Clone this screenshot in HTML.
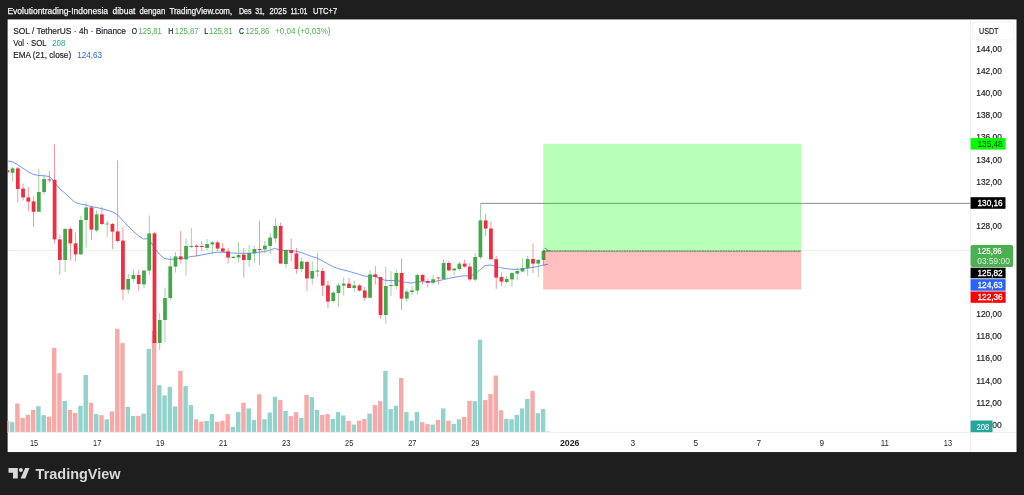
<!DOCTYPE html>
<html lang="id"><head><meta charset="utf-8"><title>SOL / TetherUS</title>
<style>html,body{margin:0;padding:0;background:#1e1e1e;}body{width:1024px;height:495px;overflow:hidden;}svg{display:block;filter:blur(0.35px);}text{font-family:"Liberation Sans",sans-serif;}</style></head><body>
<svg width="1024" height="495" viewBox="0 0 1024 495">
<rect x="0" y="0" width="1024" height="495" fill="#1e1e1e"/>
<rect x="7.1" y="18.9" width="1009.95" height="433.7" fill="#101010"/>
<rect x="7.6" y="19.4" width="1008.95" height="432.7" fill="#ffffff"/>
<g font-size="9.6" fill="#f4f4f4" stroke="#f4f4f4" stroke-width="0.25">
<text x="7.4" y="14.1" textLength="100.7" lengthAdjust="spacingAndGlyphs">Evolutiontrading-Indonesia</text>
<text x="112.5" y="14.1" textLength="22.9" lengthAdjust="spacingAndGlyphs">dibuat</text>
<text x="139.4" y="14.1" textLength="25.8" lengthAdjust="spacingAndGlyphs">dengan</text>
<text x="169.4" y="14.1" textLength="62.8" lengthAdjust="spacingAndGlyphs">TradingView.com,</text>
<text x="238.9" y="14.1" textLength="12.6" lengthAdjust="spacingAndGlyphs">Des</text>
<text x="255.2" y="14.1" textLength="9.6" lengthAdjust="spacingAndGlyphs">31,</text>
<text x="269.5" y="14.1" textLength="17.2" lengthAdjust="spacingAndGlyphs">2025</text>
<text x="290.4" y="14.1" textLength="17.1" lengthAdjust="spacingAndGlyphs">11:01</text>
<text x="313.0" y="14.1" textLength="24.2" lengthAdjust="spacingAndGlyphs">UTC+7</text>
</g>
<defs><clipPath id="cp"><rect x="7.5" y="19.5" width="962.5" height="412.7"/></clipPath></defs>
<g clip-path="url(#cp)">
<rect x="4.69" y="420.90" width="4.40" height="11.30" fill="#f7a9a7"/>
<rect x="9.94" y="422.20" width="4.40" height="10.00" fill="#92d2cc"/>
<rect x="15.20" y="403.50" width="4.40" height="28.70" fill="#f7a9a7"/>
<rect x="20.46" y="417.90" width="4.40" height="14.30" fill="#f7a9a7"/>
<rect x="25.71" y="414.80" width="4.40" height="17.40" fill="#f7a9a7"/>
<rect x="30.97" y="409.80" width="4.40" height="22.40" fill="#f7a9a7"/>
<rect x="36.23" y="406.20" width="4.40" height="26.00" fill="#92d2cc"/>
<rect x="41.48" y="415.20" width="4.40" height="17.00" fill="#92d2cc"/>
<rect x="46.74" y="416.60" width="4.40" height="15.60" fill="#f7a9a7"/>
<rect x="52.00" y="347.80" width="4.40" height="84.40" fill="#f7a9a7"/>
<rect x="57.25" y="373.20" width="4.40" height="59.00" fill="#f7a9a7"/>
<rect x="62.51" y="401.00" width="4.40" height="31.20" fill="#92d2cc"/>
<rect x="67.77" y="409.80" width="4.40" height="22.40" fill="#f7a9a7"/>
<rect x="73.03" y="413.00" width="4.40" height="19.20" fill="#f7a9a7"/>
<rect x="78.28" y="405.70" width="4.40" height="26.50" fill="#92d2cc"/>
<rect x="83.54" y="375.00" width="4.40" height="57.20" fill="#92d2cc"/>
<rect x="88.80" y="402.80" width="4.40" height="29.40" fill="#f7a9a7"/>
<rect x="94.05" y="414.10" width="4.40" height="18.10" fill="#92d2cc"/>
<rect x="99.31" y="415.20" width="4.40" height="17.00" fill="#f7a9a7"/>
<rect x="104.57" y="419.30" width="4.40" height="12.90" fill="#92d2cc"/>
<rect x="109.82" y="411.40" width="4.40" height="20.80" fill="#f7a9a7"/>
<rect x="115.08" y="328.80" width="4.40" height="103.40" fill="#f7a9a7"/>
<rect x="120.34" y="343.10" width="4.40" height="89.10" fill="#f7a9a7"/>
<rect x="125.60" y="406.90" width="4.40" height="25.30" fill="#92d2cc"/>
<rect x="130.85" y="415.90" width="4.40" height="16.30" fill="#92d2cc"/>
<rect x="136.11" y="415.90" width="4.40" height="16.30" fill="#f7a9a7"/>
<rect x="141.37" y="413.60" width="4.40" height="18.60" fill="#92d2cc"/>
<rect x="146.62" y="348.90" width="4.40" height="83.30" fill="#92d2cc"/>
<rect x="151.88" y="331.20" width="4.40" height="101.00" fill="#f7a9a7"/>
<rect x="157.14" y="385.20" width="4.40" height="47.00" fill="#92d2cc"/>
<rect x="162.39" y="395.50" width="4.40" height="36.70" fill="#92d2cc"/>
<rect x="167.65" y="387.00" width="4.40" height="45.20" fill="#92d2cc"/>
<rect x="172.91" y="406.40" width="4.40" height="25.80" fill="#92d2cc"/>
<rect x="178.17" y="370.90" width="4.40" height="61.30" fill="#f7a9a7"/>
<rect x="183.42" y="386.00" width="4.40" height="46.20" fill="#92d2cc"/>
<rect x="188.68" y="405.10" width="4.40" height="27.10" fill="#92d2cc"/>
<rect x="193.94" y="419.30" width="4.40" height="12.90" fill="#f7a9a7"/>
<rect x="199.19" y="421.60" width="4.40" height="10.60" fill="#f7a9a7"/>
<rect x="204.45" y="420.90" width="4.40" height="11.30" fill="#92d2cc"/>
<rect x="209.71" y="414.10" width="4.40" height="18.10" fill="#92d2cc"/>
<rect x="214.96" y="421.80" width="4.40" height="10.40" fill="#f7a9a7"/>
<rect x="220.22" y="420.70" width="4.40" height="11.50" fill="#f7a9a7"/>
<rect x="225.48" y="414.10" width="4.40" height="18.10" fill="#f7a9a7"/>
<rect x="230.74" y="426.80" width="4.40" height="5.40" fill="#92d2cc"/>
<rect x="235.99" y="412.10" width="4.40" height="20.10" fill="#92d2cc"/>
<rect x="241.25" y="402.80" width="4.40" height="29.40" fill="#f7a9a7"/>
<rect x="246.51" y="408.40" width="4.40" height="23.80" fill="#92d2cc"/>
<rect x="251.76" y="420.00" width="4.40" height="12.20" fill="#92d2cc"/>
<rect x="257.02" y="394.20" width="4.40" height="38.00" fill="#f7a9a7"/>
<rect x="262.28" y="419.30" width="4.40" height="12.90" fill="#92d2cc"/>
<rect x="267.54" y="412.50" width="4.40" height="19.70" fill="#92d2cc"/>
<rect x="272.79" y="396.70" width="4.40" height="35.50" fill="#92d2cc"/>
<rect x="278.05" y="400.10" width="4.40" height="32.10" fill="#f7a9a7"/>
<rect x="283.31" y="410.90" width="4.40" height="21.30" fill="#92d2cc"/>
<rect x="288.56" y="416.10" width="4.40" height="16.10" fill="#f7a9a7"/>
<rect x="293.82" y="412.10" width="4.40" height="20.10" fill="#f7a9a7"/>
<rect x="299.08" y="417.90" width="4.40" height="14.30" fill="#92d2cc"/>
<rect x="304.33" y="394.90" width="4.40" height="37.30" fill="#f7a9a7"/>
<rect x="309.59" y="397.10" width="4.40" height="35.10" fill="#92d2cc"/>
<rect x="314.85" y="409.80" width="4.40" height="22.40" fill="#92d2cc"/>
<rect x="320.11" y="415.00" width="4.40" height="17.20" fill="#f7a9a7"/>
<rect x="325.36" y="414.10" width="4.40" height="18.10" fill="#f7a9a7"/>
<rect x="330.62" y="418.90" width="4.40" height="13.30" fill="#92d2cc"/>
<rect x="335.88" y="412.10" width="4.40" height="20.10" fill="#92d2cc"/>
<rect x="341.13" y="415.50" width="4.40" height="16.70" fill="#92d2cc"/>
<rect x="346.39" y="420.90" width="4.40" height="11.30" fill="#f7a9a7"/>
<rect x="351.65" y="424.50" width="4.40" height="7.70" fill="#92d2cc"/>
<rect x="356.90" y="420.70" width="4.40" height="11.50" fill="#f7a9a7"/>
<rect x="362.16" y="418.90" width="4.40" height="13.30" fill="#f7a9a7"/>
<rect x="367.42" y="413.60" width="4.40" height="18.60" fill="#92d2cc"/>
<rect x="372.68" y="405.10" width="4.40" height="27.10" fill="#f7a9a7"/>
<rect x="377.93" y="401.20" width="4.40" height="31.00" fill="#f7a9a7"/>
<rect x="383.19" y="370.90" width="4.40" height="61.30" fill="#92d2cc"/>
<rect x="388.45" y="409.10" width="4.40" height="23.10" fill="#92d2cc"/>
<rect x="393.70" y="405.70" width="4.40" height="26.50" fill="#92d2cc"/>
<rect x="398.96" y="377.90" width="4.40" height="54.30" fill="#f7a9a7"/>
<rect x="404.22" y="412.10" width="4.40" height="20.10" fill="#92d2cc"/>
<rect x="409.47" y="420.70" width="4.40" height="11.50" fill="#92d2cc"/>
<rect x="414.73" y="412.10" width="4.40" height="20.10" fill="#92d2cc"/>
<rect x="419.99" y="422.20" width="4.40" height="10.00" fill="#f7a9a7"/>
<rect x="425.25" y="424.10" width="4.40" height="8.10" fill="#f7a9a7"/>
<rect x="430.50" y="424.50" width="4.40" height="7.70" fill="#92d2cc"/>
<rect x="435.76" y="420.00" width="4.40" height="12.20" fill="#f7a9a7"/>
<rect x="441.02" y="408.40" width="4.40" height="23.80" fill="#92d2cc"/>
<rect x="446.27" y="420.70" width="4.40" height="11.50" fill="#f7a9a7"/>
<rect x="451.53" y="423.80" width="4.40" height="8.40" fill="#92d2cc"/>
<rect x="456.79" y="419.30" width="4.40" height="12.90" fill="#92d2cc"/>
<rect x="462.04" y="417.00" width="4.40" height="15.20" fill="#f7a9a7"/>
<rect x="467.30" y="400.80" width="4.40" height="31.40" fill="#f7a9a7"/>
<rect x="472.56" y="401.20" width="4.40" height="31.00" fill="#92d2cc"/>
<rect x="477.81" y="339.70" width="4.40" height="92.50" fill="#92d2cc"/>
<rect x="483.07" y="400.10" width="4.40" height="32.10" fill="#f7a9a7"/>
<rect x="488.33" y="394.00" width="4.40" height="38.20" fill="#f7a9a7"/>
<rect x="493.59" y="375.60" width="4.40" height="56.60" fill="#f7a9a7"/>
<rect x="498.84" y="410.30" width="4.40" height="21.90" fill="#f7a9a7"/>
<rect x="504.10" y="418.90" width="4.40" height="13.30" fill="#92d2cc"/>
<rect x="509.36" y="419.30" width="4.40" height="12.90" fill="#92d2cc"/>
<rect x="514.61" y="414.80" width="4.40" height="17.40" fill="#92d2cc"/>
<rect x="519.87" y="408.40" width="4.40" height="23.80" fill="#92d2cc"/>
<rect x="525.13" y="398.90" width="4.40" height="33.30" fill="#92d2cc"/>
<rect x="530.38" y="391.00" width="4.40" height="41.20" fill="#f7a9a7"/>
<rect x="535.64" y="413.20" width="4.40" height="19.00" fill="#92d2cc"/>
<rect x="540.90" y="409.10" width="4.40" height="23.10" fill="#92d2cc"/>
<rect x="546.16" y="431.60" width="4.40" height="0.60" fill="#92d2cc"/>
<line x1="8" y1="250.5" x2="970" y2="250.5" stroke="#4caf50" stroke-width="0.8" stroke-dasharray="0.8 0.8" opacity="0.35"/>
<polyline points="8.0,161.0 12.0,161.6 17.4,164.6 22.6,168.0 28.0,171.6 33.2,174.4 38.4,175.4 43.6,175.8 49.0,176.4 52.0,179.0 54.2,182.0 59.4,188.6 64.8,193.0 70.0,198.0 75.2,202.4 80.4,204.0 85.8,205.0 91.0,206.6 96.2,207.4 101.4,208.6 106.8,210.0 112.0,211.6 117.2,214.6 122.4,220.0 128.0,226.0 133.0,231.2 138.2,235.6 143.4,239.0 148.8,238.6 151.4,243.0 154.0,247.0 157.0,251.0 159.2,254.0 164.4,258.4 169.8,259.4 175.0,259.0 180.2,258.4 185.4,258.0 190.8,256.6 196.0,256.0 201.2,255.0 206.4,254.0 211.6,253.0 217.0,252.2 222.2,252.2 227.4,252.6 232.6,253.0 238.0,253.2 243.2,253.4 248.4,253.2 253.6,252.8 259.0,252.2 264.2,251.6 269.4,250.4 274.6,248.4 278.0,249.4 280.0,250.2 285.2,250.4 290.4,250.4 295.6,251.2 301.0,252.4 306.2,254.4 311.4,256.4 316.6,257.8 322.0,260.6 327.2,263.6 332.4,266.4 337.6,268.4 343.0,269.8 348.2,271.2 353.4,272.6 358.6,274.2 364.0,276.0 369.2,276.4 374.4,275.8 380.0,278.8 385.4,280.3 391.0,280.6 396.2,280.6 401.4,281.4 406.6,282.6 412.0,283.0 417.2,282.0 422.4,281.6 427.6,282.0 433.0,281.6 438.2,280.8 443.4,279.6 448.6,278.4 454.0,277.4 459.2,276.4 464.4,275.8 469.6,276.0 475.0,274.4 480.2,269.6 485.0,265.6 490.0,265.0 495.2,266.0 500.4,267.6 505.8,268.6 511.0,269.2 516.2,269.4 521.4,269.0 526.8,268.4 532.0,267.6 537.2,266.6 542.4,265.4 548.0,264.2" fill="none" stroke="#6f97fa" stroke-width="1" stroke-linejoin="round"/>
<rect x="6.89" y="170.20" width="0.80" height="2.20" fill="#ef2d40" opacity="0.62"/>
<rect x="5.41" y="170.20" width="3.75" height="2.20" fill="#ef2d40"/>
<rect x="12.14" y="167.00" width="0.80" height="14.40" fill="#43a84a" opacity="0.62"/>
<rect x="10.67" y="168.40" width="3.75" height="4.40" fill="#43a84a"/>
<rect x="17.40" y="166.60" width="0.80" height="36.00" fill="#ef2d40" opacity="0.62"/>
<rect x="15.92" y="168.40" width="3.75" height="20.60" fill="#ef2d40"/>
<rect x="22.66" y="183.60" width="0.80" height="17.00" fill="#ef2d40" opacity="0.62"/>
<rect x="21.18" y="188.60" width="3.75" height="8.80" fill="#ef2d40"/>
<rect x="27.91" y="187.00" width="0.80" height="24.40" fill="#ef2d40" opacity="0.62"/>
<rect x="26.44" y="197.40" width="3.75" height="4.20" fill="#ef2d40"/>
<rect x="33.17" y="196.00" width="0.80" height="31.00" fill="#ef2d40" opacity="0.62"/>
<rect x="31.70" y="201.40" width="3.75" height="10.40" fill="#ef2d40"/>
<rect x="38.43" y="169.00" width="0.80" height="42.80" fill="#43a84a" opacity="0.62"/>
<rect x="36.95" y="192.00" width="3.75" height="19.80" fill="#43a84a"/>
<rect x="43.68" y="174.40" width="0.80" height="20.20" fill="#43a84a" opacity="0.62"/>
<rect x="42.21" y="179.00" width="3.75" height="13.00" fill="#43a84a"/>
<rect x="48.94" y="171.00" width="0.80" height="11.00" fill="#ef2d40" opacity="0.62"/>
<rect x="47.47" y="179.40" width="3.75" height="1.00" fill="#ef2d40"/>
<rect x="54.20" y="144.40" width="0.80" height="99.00" fill="#ef2d40" opacity="0.62"/>
<rect x="52.72" y="179.80" width="3.75" height="59.60" fill="#ef2d40"/>
<rect x="59.45" y="235.00" width="0.80" height="39.60" fill="#ef2d40" opacity="0.62"/>
<rect x="57.98" y="239.40" width="3.75" height="20.60" fill="#ef2d40"/>
<rect x="64.71" y="228.00" width="0.80" height="44.00" fill="#43a84a" opacity="0.62"/>
<rect x="63.24" y="229.00" width="3.75" height="31.00" fill="#43a84a"/>
<rect x="69.97" y="227.00" width="0.80" height="33.60" fill="#ef2d40" opacity="0.62"/>
<rect x="68.49" y="229.00" width="3.75" height="14.40" fill="#ef2d40"/>
<rect x="75.23" y="232.40" width="0.80" height="29.00" fill="#ef2d40" opacity="0.62"/>
<rect x="73.75" y="243.40" width="3.75" height="11.00" fill="#ef2d40"/>
<rect x="80.48" y="215.60" width="0.80" height="38.80" fill="#43a84a" opacity="0.62"/>
<rect x="79.01" y="220.00" width="3.75" height="34.40" fill="#43a84a"/>
<rect x="85.74" y="203.00" width="0.80" height="44.60" fill="#43a84a" opacity="0.62"/>
<rect x="84.26" y="207.40" width="3.75" height="12.60" fill="#43a84a"/>
<rect x="91.00" y="206.00" width="0.80" height="34.00" fill="#ef2d40" opacity="0.62"/>
<rect x="89.52" y="207.40" width="3.75" height="22.20" fill="#ef2d40"/>
<rect x="96.25" y="210.40" width="0.80" height="22.00" fill="#43a84a" opacity="0.62"/>
<rect x="94.78" y="214.40" width="3.75" height="16.00" fill="#43a84a"/>
<rect x="101.51" y="207.00" width="0.80" height="18.00" fill="#ef2d40" opacity="0.62"/>
<rect x="100.04" y="214.40" width="3.75" height="9.60" fill="#ef2d40"/>
<rect x="106.77" y="220.40" width="0.80" height="17.00" fill="#43a84a" opacity="0.62"/>
<rect x="105.29" y="223.60" width="3.75" height="0.80" fill="#43a84a"/>
<rect x="112.02" y="223.00" width="0.80" height="26.00" fill="#ef2d40" opacity="0.62"/>
<rect x="110.55" y="224.00" width="3.75" height="7.60" fill="#ef2d40"/>
<rect x="117.28" y="160.40" width="0.80" height="82.00" fill="#ef2d40" opacity="0.62"/>
<rect x="115.81" y="231.40" width="3.75" height="9.60" fill="#ef2d40"/>
<rect x="122.54" y="227.40" width="0.80" height="73.00" fill="#ef2d40" opacity="0.62"/>
<rect x="121.06" y="240.60" width="3.75" height="49.00" fill="#ef2d40"/>
<rect x="127.80" y="274.00" width="0.80" height="19.60" fill="#43a84a" opacity="0.62"/>
<rect x="126.32" y="279.00" width="3.75" height="10.60" fill="#43a84a"/>
<rect x="133.05" y="269.60" width="0.80" height="12.40" fill="#43a84a" opacity="0.62"/>
<rect x="131.58" y="275.00" width="3.75" height="4.00" fill="#43a84a"/>
<rect x="138.31" y="270.00" width="0.80" height="20.60" fill="#ef2d40" opacity="0.62"/>
<rect x="136.83" y="275.00" width="3.75" height="9.00" fill="#ef2d40"/>
<rect x="143.57" y="269.60" width="0.80" height="18.40" fill="#43a84a" opacity="0.62"/>
<rect x="142.09" y="270.60" width="3.75" height="13.80" fill="#43a84a"/>
<rect x="148.82" y="215.40" width="0.80" height="59.60" fill="#43a84a" opacity="0.62"/>
<rect x="147.35" y="233.40" width="3.75" height="37.20" fill="#43a84a"/>
<rect x="154.08" y="232.00" width="0.80" height="111.00" fill="#ef2d40" opacity="0.62"/>
<rect x="152.61" y="233.40" width="3.75" height="109.60" fill="#ef2d40"/>
<rect x="159.34" y="313.00" width="0.80" height="37.00" fill="#43a84a" opacity="0.62"/>
<rect x="157.86" y="320.00" width="3.75" height="23.00" fill="#43a84a"/>
<rect x="164.59" y="287.60" width="0.80" height="54.40" fill="#43a84a" opacity="0.62"/>
<rect x="163.12" y="298.00" width="3.75" height="22.00" fill="#43a84a"/>
<rect x="169.85" y="256.00" width="0.80" height="44.40" fill="#43a84a" opacity="0.62"/>
<rect x="168.38" y="266.40" width="3.75" height="31.60" fill="#43a84a"/>
<rect x="175.11" y="252.00" width="0.80" height="20.60" fill="#43a84a" opacity="0.62"/>
<rect x="173.63" y="256.40" width="3.75" height="10.20" fill="#43a84a"/>
<rect x="180.37" y="231.00" width="0.80" height="32.40" fill="#ef2d40" opacity="0.62"/>
<rect x="178.89" y="256.40" width="3.75" height="3.00" fill="#ef2d40"/>
<rect x="185.62" y="238.40" width="0.80" height="37.00" fill="#43a84a" opacity="0.62"/>
<rect x="184.15" y="246.00" width="3.75" height="13.40" fill="#43a84a"/>
<rect x="190.88" y="228.00" width="0.80" height="20.00" fill="#43a84a" opacity="0.62"/>
<rect x="189.40" y="246.00" width="3.75" height="1.00" fill="#43a84a"/>
<rect x="196.14" y="244.00" width="0.80" height="12.40" fill="#ef2d40" opacity="0.62"/>
<rect x="194.66" y="245.80" width="3.75" height="1.20" fill="#ef2d40"/>
<rect x="201.39" y="241.00" width="0.80" height="9.60" fill="#ef2d40" opacity="0.62"/>
<rect x="199.92" y="246.00" width="3.75" height="1.00" fill="#ef2d40"/>
<rect x="206.65" y="239.00" width="0.80" height="11.60" fill="#43a84a" opacity="0.62"/>
<rect x="205.18" y="244.00" width="3.75" height="4.00" fill="#43a84a"/>
<rect x="211.91" y="241.00" width="0.80" height="13.40" fill="#43a84a" opacity="0.62"/>
<rect x="210.43" y="242.40" width="3.75" height="2.00" fill="#43a84a"/>
<rect x="217.16" y="240.60" width="0.80" height="10.40" fill="#ef2d40" opacity="0.62"/>
<rect x="215.69" y="242.40" width="3.75" height="6.20" fill="#ef2d40"/>
<rect x="222.42" y="243.00" width="0.80" height="9.60" fill="#ef2d40" opacity="0.62"/>
<rect x="220.95" y="248.40" width="3.75" height="3.20" fill="#ef2d40"/>
<rect x="227.68" y="248.00" width="0.80" height="15.60" fill="#ef2d40" opacity="0.62"/>
<rect x="226.20" y="251.40" width="3.75" height="6.20" fill="#ef2d40"/>
<rect x="232.94" y="256.00" width="0.80" height="2.60" fill="#43a84a" opacity="0.62"/>
<rect x="231.46" y="256.80" width="3.75" height="1.20" fill="#43a84a"/>
<rect x="238.19" y="242.00" width="0.80" height="20.60" fill="#43a84a" opacity="0.62"/>
<rect x="236.72" y="255.00" width="3.75" height="2.40" fill="#43a84a"/>
<rect x="243.45" y="248.00" width="0.80" height="29.60" fill="#ef2d40" opacity="0.62"/>
<rect x="241.97" y="254.60" width="3.75" height="5.40" fill="#ef2d40"/>
<rect x="248.71" y="245.00" width="0.80" height="22.00" fill="#43a84a" opacity="0.62"/>
<rect x="247.23" y="253.00" width="3.75" height="7.00" fill="#43a84a"/>
<rect x="253.96" y="245.60" width="0.80" height="17.40" fill="#43a84a" opacity="0.62"/>
<rect x="252.49" y="249.00" width="3.75" height="4.40" fill="#43a84a"/>
<rect x="259.22" y="220.60" width="0.80" height="44.40" fill="#ef2d40" opacity="0.62"/>
<rect x="257.75" y="249.00" width="3.75" height="1.00" fill="#ef2d40"/>
<rect x="264.48" y="241.00" width="0.80" height="12.40" fill="#43a84a" opacity="0.62"/>
<rect x="263.00" y="245.60" width="3.75" height="3.80" fill="#43a84a"/>
<rect x="269.74" y="233.00" width="0.80" height="21.40" fill="#43a84a" opacity="0.62"/>
<rect x="268.26" y="237.60" width="3.75" height="8.40" fill="#43a84a"/>
<rect x="274.99" y="218.00" width="0.80" height="25.00" fill="#43a84a" opacity="0.62"/>
<rect x="273.52" y="226.00" width="3.75" height="12.40" fill="#43a84a"/>
<rect x="280.25" y="222.60" width="0.80" height="41.00" fill="#ef2d40" opacity="0.62"/>
<rect x="278.77" y="226.00" width="3.75" height="37.60" fill="#ef2d40"/>
<rect x="285.51" y="249.00" width="0.80" height="19.60" fill="#43a84a" opacity="0.62"/>
<rect x="284.03" y="250.00" width="3.75" height="14.00" fill="#43a84a"/>
<rect x="290.76" y="238.60" width="0.80" height="22.40" fill="#ef2d40" opacity="0.62"/>
<rect x="289.29" y="250.00" width="3.75" height="3.00" fill="#ef2d40"/>
<rect x="296.02" y="248.00" width="0.80" height="25.60" fill="#ef2d40" opacity="0.62"/>
<rect x="294.54" y="253.40" width="3.75" height="15.60" fill="#ef2d40"/>
<rect x="301.28" y="257.40" width="0.80" height="14.60" fill="#43a84a" opacity="0.62"/>
<rect x="299.80" y="261.40" width="3.75" height="7.60" fill="#43a84a"/>
<rect x="306.53" y="261.00" width="0.80" height="30.40" fill="#ef2d40" opacity="0.62"/>
<rect x="305.06" y="262.00" width="3.75" height="16.40" fill="#ef2d40"/>
<rect x="311.79" y="261.40" width="0.80" height="23.20" fill="#43a84a" opacity="0.62"/>
<rect x="310.32" y="271.00" width="3.75" height="7.60" fill="#43a84a"/>
<rect x="317.05" y="253.00" width="0.80" height="24.00" fill="#43a84a" opacity="0.62"/>
<rect x="315.57" y="270.60" width="3.75" height="1.00" fill="#43a84a"/>
<rect x="322.31" y="268.00" width="0.80" height="28.00" fill="#ef2d40" opacity="0.62"/>
<rect x="320.83" y="271.00" width="3.75" height="14.60" fill="#ef2d40"/>
<rect x="327.56" y="281.00" width="0.80" height="27.40" fill="#ef2d40" opacity="0.62"/>
<rect x="326.09" y="285.40" width="3.75" height="16.20" fill="#ef2d40"/>
<rect x="332.82" y="291.00" width="0.80" height="12.00" fill="#43a84a" opacity="0.62"/>
<rect x="331.34" y="292.60" width="3.75" height="8.40" fill="#43a84a"/>
<rect x="338.08" y="283.00" width="0.80" height="24.00" fill="#43a84a" opacity="0.62"/>
<rect x="336.60" y="285.40" width="3.75" height="7.60" fill="#43a84a"/>
<rect x="343.33" y="277.40" width="0.80" height="18.20" fill="#43a84a" opacity="0.62"/>
<rect x="341.86" y="283.60" width="3.75" height="2.00" fill="#43a84a"/>
<rect x="348.59" y="278.00" width="0.80" height="10.00" fill="#ef2d40" opacity="0.62"/>
<rect x="347.11" y="283.60" width="3.75" height="4.40" fill="#ef2d40"/>
<rect x="353.85" y="280.60" width="0.80" height="11.40" fill="#43a84a" opacity="0.62"/>
<rect x="352.37" y="285.40" width="3.75" height="2.60" fill="#43a84a"/>
<rect x="359.10" y="284.00" width="0.80" height="7.60" fill="#ef2d40" opacity="0.62"/>
<rect x="357.63" y="285.40" width="3.75" height="5.20" fill="#ef2d40"/>
<rect x="364.36" y="287.00" width="0.80" height="14.00" fill="#ef2d40" opacity="0.62"/>
<rect x="362.89" y="290.50" width="3.75" height="7.30" fill="#ef2d40"/>
<rect x="369.62" y="270.00" width="0.80" height="27.80" fill="#43a84a" opacity="0.62"/>
<rect x="368.14" y="274.40" width="3.75" height="23.40" fill="#43a84a"/>
<rect x="374.88" y="266.00" width="0.80" height="18.50" fill="#ef2d40" opacity="0.62"/>
<rect x="373.40" y="274.40" width="3.75" height="2.60" fill="#ef2d40"/>
<rect x="380.13" y="277.00" width="0.80" height="41.60" fill="#ef2d40" opacity="0.62"/>
<rect x="378.66" y="277.00" width="3.75" height="38.00" fill="#ef2d40"/>
<rect x="385.39" y="267.00" width="0.80" height="56.60" fill="#43a84a" opacity="0.62"/>
<rect x="383.91" y="286.00" width="3.75" height="29.00" fill="#43a84a"/>
<rect x="390.65" y="271.00" width="0.80" height="25.00" fill="#43a84a" opacity="0.62"/>
<rect x="389.17" y="285.00" width="3.75" height="1.00" fill="#43a84a"/>
<rect x="395.90" y="270.00" width="0.80" height="19.60" fill="#43a84a" opacity="0.62"/>
<rect x="394.43" y="273.00" width="3.75" height="13.00" fill="#43a84a"/>
<rect x="401.16" y="258.40" width="0.80" height="51.60" fill="#ef2d40" opacity="0.62"/>
<rect x="399.68" y="273.00" width="3.75" height="25.60" fill="#ef2d40"/>
<rect x="406.42" y="288.60" width="0.80" height="13.40" fill="#43a84a" opacity="0.62"/>
<rect x="404.94" y="291.60" width="3.75" height="7.00" fill="#43a84a"/>
<rect x="411.67" y="286.00" width="0.80" height="9.00" fill="#43a84a" opacity="0.62"/>
<rect x="410.20" y="290.40" width="3.75" height="1.60" fill="#43a84a"/>
<rect x="416.93" y="273.60" width="0.80" height="20.80" fill="#43a84a" opacity="0.62"/>
<rect x="415.46" y="275.00" width="3.75" height="15.60" fill="#43a84a"/>
<rect x="422.19" y="274.00" width="0.80" height="10.40" fill="#ef2d40" opacity="0.62"/>
<rect x="420.71" y="275.00" width="3.75" height="6.00" fill="#ef2d40"/>
<rect x="427.44" y="278.60" width="0.80" height="8.80" fill="#ef2d40" opacity="0.62"/>
<rect x="425.97" y="281.00" width="3.75" height="1.80" fill="#ef2d40"/>
<rect x="432.70" y="275.00" width="0.80" height="10.00" fill="#43a84a" opacity="0.62"/>
<rect x="431.23" y="279.20" width="3.75" height="3.60" fill="#43a84a"/>
<rect x="437.96" y="276.60" width="0.80" height="7.80" fill="#ef2d40" opacity="0.62"/>
<rect x="436.48" y="277.60" width="3.75" height="0.80" fill="#ef2d40"/>
<rect x="443.22" y="259.00" width="0.80" height="20.20" fill="#43a84a" opacity="0.62"/>
<rect x="441.74" y="263.00" width="3.75" height="16.20" fill="#43a84a"/>
<rect x="448.47" y="261.00" width="0.80" height="10.40" fill="#ef2d40" opacity="0.62"/>
<rect x="447.00" y="263.00" width="3.75" height="7.40" fill="#ef2d40"/>
<rect x="453.73" y="268.00" width="0.80" height="7.40" fill="#43a84a" opacity="0.62"/>
<rect x="452.25" y="268.60" width="3.75" height="1.80" fill="#43a84a"/>
<rect x="458.99" y="261.60" width="0.80" height="8.80" fill="#43a84a" opacity="0.62"/>
<rect x="457.51" y="263.60" width="3.75" height="5.40" fill="#43a84a"/>
<rect x="464.24" y="259.60" width="0.80" height="7.80" fill="#ef2d40" opacity="0.62"/>
<rect x="462.77" y="263.60" width="3.75" height="3.00" fill="#ef2d40"/>
<rect x="469.50" y="263.00" width="0.80" height="18.00" fill="#ef2d40" opacity="0.62"/>
<rect x="468.03" y="266.60" width="3.75" height="12.80" fill="#ef2d40"/>
<rect x="474.76" y="253.00" width="0.80" height="28.40" fill="#43a84a" opacity="0.62"/>
<rect x="473.28" y="257.00" width="3.75" height="22.60" fill="#43a84a"/>
<rect x="480.01" y="203.30" width="0.80" height="56.00" fill="#43a84a" opacity="0.62"/>
<rect x="478.54" y="220.40" width="3.75" height="36.80" fill="#43a84a"/>
<rect x="485.27" y="214.00" width="0.80" height="22.00" fill="#ef2d40" opacity="0.62"/>
<rect x="483.80" y="220.40" width="3.75" height="8.20" fill="#ef2d40"/>
<rect x="490.53" y="221.40" width="0.80" height="37.90" fill="#ef2d40" opacity="0.62"/>
<rect x="489.05" y="228.50" width="3.75" height="30.80" fill="#ef2d40"/>
<rect x="495.79" y="255.80" width="0.80" height="33.20" fill="#ef2d40" opacity="0.62"/>
<rect x="494.31" y="259.20" width="3.75" height="18.40" fill="#ef2d40"/>
<rect x="501.04" y="272.40" width="0.80" height="13.60" fill="#ef2d40" opacity="0.62"/>
<rect x="499.57" y="277.00" width="3.75" height="4.60" fill="#ef2d40"/>
<rect x="506.30" y="276.00" width="0.80" height="7.40" fill="#43a84a" opacity="0.62"/>
<rect x="504.82" y="279.00" width="3.75" height="3.00" fill="#43a84a"/>
<rect x="511.56" y="272.00" width="0.80" height="15.00" fill="#43a84a" opacity="0.62"/>
<rect x="510.08" y="273.00" width="3.75" height="6.40" fill="#43a84a"/>
<rect x="516.81" y="267.40" width="0.80" height="12.60" fill="#43a84a" opacity="0.62"/>
<rect x="515.34" y="271.00" width="3.75" height="2.60" fill="#43a84a"/>
<rect x="522.07" y="258.40" width="0.80" height="13.60" fill="#43a84a" opacity="0.62"/>
<rect x="520.60" y="268.00" width="3.75" height="3.40" fill="#43a84a"/>
<rect x="527.33" y="256.00" width="0.80" height="20.00" fill="#43a84a" opacity="0.62"/>
<rect x="525.85" y="259.00" width="3.75" height="9.00" fill="#43a84a"/>
<rect x="532.59" y="243.40" width="0.80" height="29.60" fill="#ef2d40" opacity="0.62"/>
<rect x="531.11" y="259.00" width="3.75" height="4.60" fill="#ef2d40"/>
<rect x="537.84" y="259.00" width="0.80" height="18.00" fill="#43a84a" opacity="0.62"/>
<rect x="536.37" y="260.00" width="3.75" height="3.60" fill="#43a84a"/>
<rect x="543.10" y="249.00" width="0.80" height="16.00" fill="#43a84a" opacity="0.62"/>
<rect x="541.62" y="251.00" width="3.75" height="9.00" fill="#43a84a"/>
<rect x="548.36" y="250.20" width="0.80" height="0.80" fill="#43a84a" opacity="0.62"/>
<rect x="546.88" y="250.30" width="3.75" height="0.80" fill="#43a84a"/>
<path d="M480.5 203.35H970" fill="none" stroke="#8c8c8c" stroke-width="1"/>
<rect x="543.2" y="143.8" width="258" height="107.3" fill="#00ff00" fill-opacity="0.278"/>
<rect x="543.2" y="251.1" width="258" height="38.4" fill="#ff0000" fill-opacity="0.25"/>
<line x1="543.2" y1="251.1" x2="801.2" y2="251.15" stroke="#3a4a3a" stroke-width="0.8" stroke-dasharray="2.2 0.4"/>
<path d="M544.6 248.4q1.8-0.6 2.6 1.4l-1.2 0.4" fill="none" stroke="#555" stroke-width="0.6"/>
</g>
<line x1="970.4" y1="19.5" x2="970.4" y2="451.5" stroke="#e6e8ee" stroke-width="0.8"/>
<line x1="7.5" y1="432.4" x2="1016" y2="432.4" stroke="#e6e8ee" stroke-width="0.8"/>
<text x="13.2" y="33.9" font-size="9.2" font-weight="normal" fill="#20232a" text-anchor="start" stroke="#20232a" stroke-width="0.18" textLength="112.8" lengthAdjust="spacingAndGlyphs">SOL / TetherUS · 4h · Binance</text>
<text x="131.7" y="33.9" font-size="9.2" font-weight="normal" fill="#20232a" text-anchor="start" stroke="#20232a" stroke-width="0.18" textLength="5.3" lengthAdjust="spacingAndGlyphs">O</text>
<text x="138.6" y="33.9" font-size="9.2" font-weight="normal" fill="#4caf50" text-anchor="start" textLength="23.2" lengthAdjust="spacingAndGlyphs">125,81</text>
<text x="168.2" y="33.9" font-size="9.2" font-weight="normal" fill="#20232a" text-anchor="start" stroke="#20232a" stroke-width="0.18" textLength="5.1" lengthAdjust="spacingAndGlyphs">H</text>
<text x="174.8" y="33.9" font-size="9.2" font-weight="normal" fill="#4caf50" text-anchor="start" textLength="23.9" lengthAdjust="spacingAndGlyphs">125,87</text>
<text x="204.3" y="33.9" font-size="9.2" font-weight="normal" fill="#20232a" text-anchor="start" stroke="#20232a" stroke-width="0.18" textLength="3.9" lengthAdjust="spacingAndGlyphs">L</text>
<text x="208.9" y="33.9" font-size="9.2" font-weight="normal" fill="#4caf50" text-anchor="start" textLength="23.6" lengthAdjust="spacingAndGlyphs">125,81</text>
<text x="239.0" y="33.9" font-size="9.2" font-weight="normal" fill="#20232a" text-anchor="start" stroke="#20232a" stroke-width="0.18" textLength="5.0" lengthAdjust="spacingAndGlyphs">C</text>
<text x="245.4" y="33.9" font-size="9.2" font-weight="normal" fill="#4caf50" text-anchor="start" textLength="24.1" lengthAdjust="spacingAndGlyphs">125,86</text>
<text x="275.0" y="33.9" font-size="9.2" font-weight="normal" fill="#4caf50" text-anchor="start" textLength="55.5" lengthAdjust="spacingAndGlyphs">+0,04 (+0,03%)</text>
<text x="13.2" y="45.9" font-size="9.2" font-weight="normal" fill="#20232a" text-anchor="start" stroke="#20232a" stroke-width="0.18" textLength="33.4" lengthAdjust="spacingAndGlyphs">Vol · SOL</text>
<text x="52.2" y="45.9" font-size="9.2" font-weight="normal" fill="#26a69a" text-anchor="start" textLength="13.2" lengthAdjust="spacingAndGlyphs">208</text>
<text x="13.2" y="57.8" font-size="9.2" font-weight="normal" fill="#20232a" text-anchor="start" stroke="#20232a" stroke-width="0.18" textLength="58.0" lengthAdjust="spacingAndGlyphs">EMA (21, close)</text>
<text x="77.3" y="57.8" font-size="9.2" font-weight="normal" fill="#2962ff" text-anchor="start" textLength="24.7" lengthAdjust="spacingAndGlyphs">124,63</text>
<rect x="972.6" y="22" width="41" height="18" rx="2.5" fill="#fff" stroke="#eceef2" stroke-width="0.8"/>
<text x="979.0" y="34.2" font-size="9.0" font-weight="normal" fill="#20232a" text-anchor="start" stroke="#20232a" stroke-width="0.18" textLength="19.5" lengthAdjust="spacingAndGlyphs">USDT</text>
<text x="976.3" y="52.0" font-size="9.0" font-weight="normal" fill="#20232a" text-anchor="start" stroke="#20232a" stroke-width="0.18" textLength="25.5" lengthAdjust="spacingAndGlyphs">144,00</text>
<text x="976.3" y="74.1" font-size="9.0" font-weight="normal" fill="#20232a" text-anchor="start" stroke="#20232a" stroke-width="0.18" textLength="25.5" lengthAdjust="spacingAndGlyphs">142,00</text>
<text x="976.3" y="96.2" font-size="9.0" font-weight="normal" fill="#20232a" text-anchor="start" stroke="#20232a" stroke-width="0.18" textLength="25.5" lengthAdjust="spacingAndGlyphs">140,00</text>
<text x="976.3" y="118.3" font-size="9.0" font-weight="normal" fill="#20232a" text-anchor="start" stroke="#20232a" stroke-width="0.18" textLength="25.5" lengthAdjust="spacingAndGlyphs">138,00</text>
<text x="976.3" y="140.4" font-size="9.0" font-weight="normal" fill="#20232a" text-anchor="start" stroke="#20232a" stroke-width="0.18" textLength="25.5" lengthAdjust="spacingAndGlyphs">136,00</text>
<text x="976.3" y="162.5" font-size="9.0" font-weight="normal" fill="#20232a" text-anchor="start" stroke="#20232a" stroke-width="0.18" textLength="25.5" lengthAdjust="spacingAndGlyphs">134,00</text>
<text x="976.3" y="184.6" font-size="9.0" font-weight="normal" fill="#20232a" text-anchor="start" stroke="#20232a" stroke-width="0.18" textLength="25.5" lengthAdjust="spacingAndGlyphs">132,00</text>
<text x="976.3" y="206.7" font-size="9.0" font-weight="normal" fill="#20232a" text-anchor="start" stroke="#20232a" stroke-width="0.18" textLength="25.5" lengthAdjust="spacingAndGlyphs">130,00</text>
<text x="976.3" y="228.8" font-size="9.0" font-weight="normal" fill="#20232a" text-anchor="start" stroke="#20232a" stroke-width="0.18" textLength="25.5" lengthAdjust="spacingAndGlyphs">128,00</text>
<text x="976.3" y="317.2" font-size="9.0" font-weight="normal" fill="#20232a" text-anchor="start" stroke="#20232a" stroke-width="0.18" textLength="25.5" lengthAdjust="spacingAndGlyphs">120,00</text>
<text x="976.3" y="339.3" font-size="9.0" font-weight="normal" fill="#20232a" text-anchor="start" stroke="#20232a" stroke-width="0.18" textLength="25.5" lengthAdjust="spacingAndGlyphs">118,00</text>
<text x="976.3" y="361.4" font-size="9.0" font-weight="normal" fill="#20232a" text-anchor="start" stroke="#20232a" stroke-width="0.18" textLength="25.5" lengthAdjust="spacingAndGlyphs">116,00</text>
<text x="976.3" y="383.5" font-size="9.0" font-weight="normal" fill="#20232a" text-anchor="start" stroke="#20232a" stroke-width="0.18" textLength="25.5" lengthAdjust="spacingAndGlyphs">114,00</text>
<text x="976.3" y="405.6" font-size="9.0" font-weight="normal" fill="#20232a" text-anchor="start" stroke="#20232a" stroke-width="0.18" textLength="25.5" lengthAdjust="spacingAndGlyphs">112,00</text>
<text x="976.3" y="427.7" font-size="9.0" font-weight="normal" fill="#20232a" text-anchor="start" stroke="#20232a" stroke-width="0.18" textLength="25.5" lengthAdjust="spacingAndGlyphs">110,00</text>
<rect x="970.6" y="138.1" width="34.9" height="11.5" fill="#00ff00" rx="0"/>
<text x="977.5" y="147.2" font-size="9.0" font-weight="normal" fill="#10301a" text-anchor="start" textLength="25.2" lengthAdjust="spacingAndGlyphs">135,48</text>
<rect x="970.6" y="197.2" width="34.9" height="11.6" fill="#000" rx="0"/>
<text x="977.5" y="206.4" font-size="9.0" font-weight="normal" fill="#fff" text-anchor="start" stroke="#fff" stroke-width="0.3" textLength="25.2" lengthAdjust="spacingAndGlyphs">130,16</text>
<rect x="970.6" y="245.0" width="42.6" height="21.9" fill="#4caf50" rx="2"/>
<text x="977.3" y="253.6" font-size="9.0" font-weight="normal" fill="#fff" text-anchor="start" stroke="#fff" stroke-width="0.15" textLength="24.5" lengthAdjust="spacingAndGlyphs">125,86</text>
<text x="977.3" y="263.8" font-size="9.0" font-weight="normal" fill="#d9efda" text-anchor="start" textLength="32.5" lengthAdjust="spacingAndGlyphs">03:59:00</text>
<rect x="970.6" y="267.7" width="35.0" height="10.6" fill="#000" rx="0"/>
<text x="977.5" y="275.7" font-size="9.0" font-weight="normal" fill="#fff" text-anchor="start" stroke="#fff" stroke-width="0.3" textLength="25.2" lengthAdjust="spacingAndGlyphs">125,82</text>
<rect x="970.6" y="279.2" width="35.0" height="11.5" fill="#2962ff" rx="0"/>
<text x="977.5" y="287.6" font-size="9.0" font-weight="normal" fill="#fff" text-anchor="start" stroke="#fff" stroke-width="0.3" textLength="25.2" lengthAdjust="spacingAndGlyphs">124,63</text>
<rect x="970.6" y="291.5" width="35.0" height="11.3" fill="#ff0000" rx="0"/>
<text x="977.5" y="299.5" font-size="9.0" font-weight="normal" fill="#fff" text-anchor="start" stroke="#fff" stroke-width="0.3" textLength="25.2" lengthAdjust="spacingAndGlyphs">122,36</text>
<rect x="970.6" y="420.5" width="21.9" height="11.7" fill="#26a69a" rx="0"/>
<text x="976.6" y="429.8" font-size="9.0" font-weight="normal" fill="#fff" text-anchor="start" textLength="12.8" lengthAdjust="spacingAndGlyphs">208</text>
<text x="30.0" y="445.9" font-size="8.8" font-weight="normal" fill="#20232a" textLength="8.2" lengthAdjust="spacingAndGlyphs">15</text>
<text x="93.1" y="445.9" font-size="8.8" font-weight="normal" fill="#20232a" textLength="8.2" lengthAdjust="spacingAndGlyphs">17</text>
<text x="156.1" y="445.9" font-size="8.8" font-weight="normal" fill="#20232a" textLength="8.2" lengthAdjust="spacingAndGlyphs">19</text>
<text x="219.1" y="445.9" font-size="8.8" font-weight="normal" fill="#20232a" textLength="8.2" lengthAdjust="spacingAndGlyphs">21</text>
<text x="282.1" y="445.9" font-size="8.8" font-weight="normal" fill="#20232a" textLength="8.2" lengthAdjust="spacingAndGlyphs">23</text>
<text x="345.1" y="445.9" font-size="8.8" font-weight="normal" fill="#20232a" textLength="8.2" lengthAdjust="spacingAndGlyphs">25</text>
<text x="408.2" y="445.9" font-size="8.8" font-weight="normal" fill="#20232a" textLength="8.2" lengthAdjust="spacingAndGlyphs">27</text>
<text x="471.2" y="445.9" font-size="8.8" font-weight="normal" fill="#20232a" textLength="8.2" lengthAdjust="spacingAndGlyphs">29</text>
<text x="560.0" y="445.9" font-size="8.8" font-weight="bold" fill="#20232a" textLength="19.5" lengthAdjust="spacingAndGlyphs">2026</text>
<text x="630.5" y="445.9" font-size="8.8" font-weight="normal" fill="#20232a" textLength="4.6" lengthAdjust="spacingAndGlyphs">3</text>
<text x="693.5" y="445.9" font-size="8.8" font-weight="normal" fill="#20232a" textLength="4.6" lengthAdjust="spacingAndGlyphs">5</text>
<text x="756.5" y="445.9" font-size="8.8" font-weight="normal" fill="#20232a" textLength="4.6" lengthAdjust="spacingAndGlyphs">7</text>
<text x="819.6" y="445.9" font-size="8.8" font-weight="normal" fill="#20232a" textLength="4.6" lengthAdjust="spacingAndGlyphs">9</text>
<text x="880.8" y="445.9" font-size="8.8" font-weight="normal" fill="#20232a" textLength="8.2" lengthAdjust="spacingAndGlyphs">11</text>
<text x="943.8" y="445.9" font-size="8.8" font-weight="normal" fill="#20232a" textLength="8.2" lengthAdjust="spacingAndGlyphs">13</text>
<path d="M8.5 468H17.8V478.5H13V472.8H8.5Z" fill="#d9d9d9"/>
<circle cx="20.9" cy="470.1" r="2" fill="#d9d9d9"/>
<path d="M25.2 468H29.5L25.3 478.5H20.6Z" fill="#d9d9d9"/>
<text x="35.6" y="478.5" font-size="14" font-weight="bold" fill="#d9d9d9" textLength="85" lengthAdjust="spacingAndGlyphs">TradingView</text>
</svg></body></html>
